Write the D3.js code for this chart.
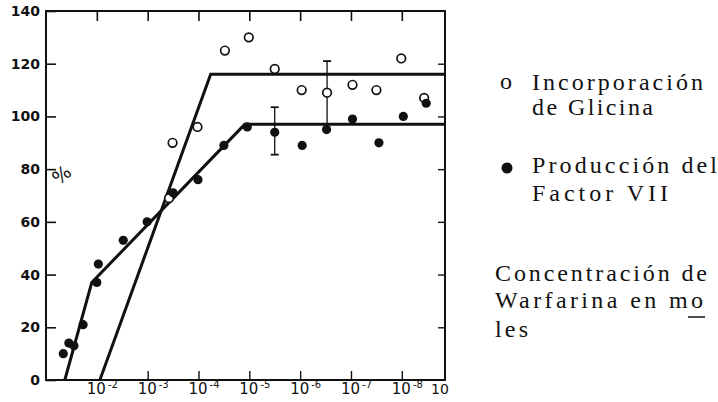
<!DOCTYPE html>
<html>
<head>
<meta charset="utf-8">
<script src="https://cdn.jsdelivr.net/npm/d3@7"></script>
<style>
  body { margin: 0; background: #fff; }
  svg { display: block; }
  .legend { font-family: "Liberation Serif", "DejaVu Serif", serif; font-size: 24px; fill: #111; }
</style>
</head>
<body>
<svg id="chart" width="718" height="402"></svg>
<script>
// values; x is the exponent n of 10^-n (moles)
const glicinaPoints = [[3.42, 69], [3.49, 90], [3.98, 96], [4.52, 125], [4.99, 130], [5.5, 118],
  [6.03, 110], [6.53, 109], [7.03, 112], [7.5, 110], [7.99, 122], [8.44, 107]];
const factorPoints = [[1.34, 10], [1.45, 14], [1.55, 13], [1.73, 21], [2.0, 37], [2.03, 44],
  [2.52, 53], [2.99, 60], [3.5, 71], [3.99, 76], [4.5, 89], [4.96, 96], [5.5, 94], [6.04, 89],
  [6.52, 95], [7.03, 99], [7.55, 90], [8.03, 100], [8.48, 105]];
const glicinaErr = [[6.53, 109, 12]];
const factorErr = [[5.5, 94.5, 9]];
const glicinaFit = [[2.06, 0], [4.24, 116], [8.85, 116]];
const factorFit = [[1.37, 0], [1.9, 37], [4.91, 97], [8.85, 97]];
const yTicks = [0, 20, 40, 60, 80, 100, 120, 140];
const yTickLabels = ["0", "20", "40", "60", "80", "100", "120", "140"];
const xTicks = [2, 3, 4, 5, 6, 7, 8];
const xTickLabels = ["-2", "-3", "-4", "-5", "-6", "-7", "-8"];
const legendLines = [
  {t: "Incorporación", x: 532, y: 90, w: 171},
  {t: "de Glicina", x: 532, y: 115, w: 121},
  {t: "Producción del", x: 532, y: 173, w: 185},
  {t: "Factor  VII", x: 532, y: 201, w: 136},
  {t: "Concentración de", x: 495, y: 281, w: 212},
  {t: "Warfarina en mo", x: 495, y: 308, w: 208},
  {t: "les", x: 495, y: 337, w: 33}
];

let svg = d3.select("#chart");
let x = d3.scaleLinear().domain([1, 8.85]).range([46, 445]);
let y = d3.scaleLinear().domain([0, 140]).range([380, 11]);
let tickFont = "DejaVu Sans, sans-serif";

// frame
svg.append("rect")
  .attr("x", x(1)).attr("y", y(140))
  .attr("width", x(8.85) - x(1)).attr("height", y(0) - y(140))
  .attr("fill", "none").attr("stroke", "#111").attr("stroke-width", 2);

// left axis, ticks pointing in
let leftAxis = svg.append("g").attr("transform", "translate(" + x(1) + ",0)")
  .call(d3.axisLeft(y).tickValues(yTicks).tickSize(-10).tickPadding(6)
    .tickFormat((d, i) => yTickLabels[i]));
leftAxis.select(".domain").remove();
leftAxis.selectAll("line").attr("stroke", "#111").attr("stroke-width", 1.6);
leftAxis.selectAll("text").attr("font-family", tickFont).attr("font-weight", "bold")
  .attr("font-size", 14).attr("fill", "#111");

// right axis ticks
let rightAxis = svg.append("g").attr("transform", "translate(" + x(8.85) + ",0)")
  .call(d3.axisRight(y).tickValues(yTicks.slice(1, 7)).tickSize(-7).tickFormat(""));
rightAxis.select(".domain").remove();
rightAxis.selectAll("line").attr("stroke", "#111").attr("stroke-width", 1.4);

// top ticks
let topAxis = svg.append("g").attr("transform", "translate(0," + y(140) + ")")
  .call(d3.axisTop(x).tickValues(xTicks).tickSize(-10).tickFormat(""));
topAxis.select(".domain").remove();
topAxis.selectAll("line").attr("stroke", "#111").attr("stroke-width", 1.6);

// bottom ticks
let bottomAxis = svg.append("g").attr("transform", "translate(0," + y(0) + ")")
  .call(d3.axisBottom(x).tickValues(xTicks.slice(1)).tickSize(-9).tickFormat(""));
bottomAxis.select(".domain").remove();
bottomAxis.selectAll("line").attr("stroke", "#111").attr("stroke-width", 1.4);

// bottom labels 10^-n
let xl = svg.append("g").selectAll("text").data(xTicks).enter().append("text")
  .attr("x", d => x(d) - 10).attr("y", 394)
  .attr("font-family", tickFont).attr("font-size", 15).attr("fill", "#111");
xl.append("tspan").text("10");
xl.append("tspan").attr("dy", -6).attr("dx", 2).attr("font-size", 10)
  .text((d, i) => xTickLabels[i]);
svg.append("text").attr("x", x(8.85) - 5).attr("y", 394)
  .attr("text-anchor", "middle").attr("font-family", tickFont)
  .attr("font-size", 14).attr("fill", "#111").text("10");

// % label
svg.append("text").attr("transform", "translate(66,180) rotate(-40)")
  .attr("text-anchor", "middle").attr("font-family", tickFont)
  .attr("font-size", 19).attr("fill", "#111").text("%");

// fitted lines
let line = d3.line().x(d => x(d[0])).y(d => y(d[1]));
[glicinaFit, factorFit].forEach(f => {
  svg.append("path").attr("d", line(f)).attr("fill", "none")
    .attr("stroke", "#111").attr("stroke-width", 3).attr("stroke-linejoin", "miter");
});

// error bars
glicinaErr.concat(factorErr).forEach(e => {
  let g = svg.append("g").attr("stroke", "#111").attr("stroke-width", 1.3);
  g.append("line").attr("x1", x(e[0])).attr("x2", x(e[0]))
    .attr("y1", y(e[1] + e[2])).attr("y2", y(e[1] - e[2]));
  [e[1] + e[2], e[1] - e[2]].forEach(v => {
    g.append("line").attr("x1", x(e[0]) - 4).attr("x2", x(e[0]) + 4)
      .attr("y1", y(v)).attr("y2", y(v)).attr("stroke-width", 1.8);
  });
});

// points
svg.append("g").selectAll("circle").data(glicinaPoints).enter().append("circle")
  .attr("cx", d => x(d[0])).attr("cy", d => y(d[1])).attr("r", 4.3)
  .attr("fill", "#fff").attr("stroke", "#111").attr("stroke-width", 1.7);
svg.append("g").selectAll("circle").data(factorPoints).enter().append("circle")
  .attr("cx", d => x(d[0])).attr("cy", d => y(d[1])).attr("r", 4.6)
  .attr("fill", "#111");

// legend
svg.append("text").attr("class", "legend").attr("x", 500).attr("y", 89).text("o");
svg.append("circle").attr("cx", 507).attr("cy", 168).attr("r", 5.5).attr("fill", "#111");
svg.selectAll("text.lg").data(legendLines).enter().append("text")
  .attr("class", "legend lg").attr("x", d => d.x).attr("y", d => d.y)
  .attr("textLength", d => d.w).attr("lengthAdjust", "spacing")
  .text(d => d.t);
svg.append("line").attr("x1", 688).attr("x2", 705).attr("y1", 317).attr("y2", 317)
  .attr("stroke", "#111").attr("stroke-width", 1.5);
</script>
</body>
</html>
